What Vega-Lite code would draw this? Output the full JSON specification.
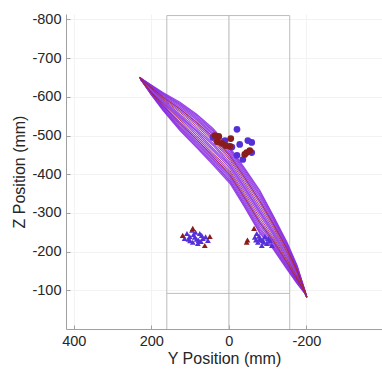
{
"$schema":"https://vega.github.io/schema/vega-lite/v6.json",
"width":316,"height":315,
"autosize":{"type":"none"},
"padding":{"left":66,"top":14,"right":0,"bottom":41},
"background":"white",
"config":{"view":{"stroke":null},
"axis":{"labelFont":"Liberation Sans","titleFont":"Liberation Sans","labelFontSize":14.5,"titleFontSize":16,"titleFontWeight":"normal","labelColor":"#262626","titleColor":"#262626","domainColor":"#a0a0a0","tickColor":"#a0a0a0","tickSize":-4,"gridColor":"#f2f2f2","grid":true,"labelExpr":"toString(datum.value)"}},
"datasets":{
"box":[{"a":160,"b":160,"c":-810,"d":0},{"a":0,"b":0,"c":-810,"d":0},{"a":-157,"b":-157,"c":-810,"d":0},{"a":160,"b":-157,"c":-810,"d":-810},{"a":160,"b":-157,"c":-92,"d":-92}],
"loops":[
{"l":"p0","i":0,"y":230,"z":-650},{"l":"p0","i":1,"y":170,"z":-611},{"l":"p0","i":2,"y":126,"z":-586},{"l":"p0","i":3,"y":83,"z":-555},{"l":"p0","i":4,"y":41,"z":-518},{"l":"p0","i":5,"y":-3,"z":-469},{"l":"p0","i":6,"y":-41,"z":-415},{"l":"p0","i":7,"y":-80,"z":-358},{"l":"p0","i":8,"y":-114,"z":-294},{"l":"p0","i":9,"y":-150,"z":-224},{"l":"p0","i":10,"y":-176,"z":-164},{"l":"p0","i":11,"y":-196,"z":-100},{"l":"p0","i":12,"y":-201,"z":-82},{"l":"p0","i":13,"y":-196,"z":-92},{"l":"p0","i":14,"y":-176,"z":-117},{"l":"p0","i":15,"y":-150,"z":-154},{"l":"p0","i":16,"y":-114,"z":-207},{"l":"p0","i":17,"y":-80,"z":-247},{"l":"p0","i":18,"y":-41,"z":-314},{"l":"p0","i":19,"y":-3,"z":-376},{"l":"p0","i":20,"y":41,"z":-424},{"l":"p0","i":21,"y":83,"z":-469},{"l":"p0","i":22,"y":126,"z":-513},{"l":"p0","i":23,"y":170,"z":-565},{"l":"p0","i":24,"y":200,"z":-605},{"l":"p0","i":25,"y":228,"z":-646},
{"l":"p1","i":0,"y":230,"z":-650},{"l":"p1","i":1,"y":170,"z":-607},{"l":"p1","i":2,"y":126,"z":-580},{"l":"p1","i":3,"y":83,"z":-548},{"l":"p1","i":4,"y":41,"z":-511},{"l":"p1","i":5,"y":-3,"z":-462},{"l":"p1","i":6,"y":-41,"z":-407},{"l":"p1","i":7,"y":-80,"z":-349},{"l":"p1","i":8,"y":-114,"z":-287},{"l":"p1","i":9,"y":-150,"z":-218},{"l":"p1","i":10,"y":-176,"z":-160},{"l":"p1","i":11,"y":-196,"z":-99},{"l":"p1","i":12,"y":-201,"z":-82},{"l":"p1","i":13,"y":-196,"z":-93},{"l":"p1","i":14,"y":-176,"z":-121},{"l":"p1","i":15,"y":-150,"z":-160},{"l":"p1","i":16,"y":-114,"z":-214},{"l":"p1","i":17,"y":-80,"z":-256},{"l":"p1","i":18,"y":-41,"z":-322},{"l":"p1","i":19,"y":-3,"z":-383},{"l":"p1","i":20,"y":41,"z":-431},{"l":"p1","i":21,"y":83,"z":-476},{"l":"p1","i":22,"y":126,"z":-519},{"l":"p1","i":23,"y":170,"z":-569},{"l":"p1","i":24,"y":200,"z":-607},{"l":"p1","i":25,"y":228,"z":-646},
{"l":"p2","i":0,"y":230,"z":-650},{"l":"p2","i":1,"y":170,"z":-603},{"l":"p2","i":2,"y":126,"z":-573},{"l":"p2","i":3,"y":83,"z":-540},{"l":"p2","i":4,"y":41,"z":-502},{"l":"p2","i":5,"y":-3,"z":-452},{"l":"p2","i":6,"y":-41,"z":-397},{"l":"p2","i":7,"y":-80,"z":-338},{"l":"p2","i":8,"y":-114,"z":-278},{"l":"p2","i":9,"y":-150,"z":-211},{"l":"p2","i":10,"y":-176,"z":-156},{"l":"p2","i":11,"y":-196,"z":-98},{"l":"p2","i":12,"y":-201,"z":-82},{"l":"p2","i":13,"y":-196,"z":-94},{"l":"p2","i":14,"y":-176,"z":-125},{"l":"p2","i":15,"y":-150,"z":-167},{"l":"p2","i":16,"y":-114,"z":-223},{"l":"p2","i":17,"y":-80,"z":-267},{"l":"p2","i":18,"y":-41,"z":-332},{"l":"p2","i":19,"y":-3,"z":-393},{"l":"p2","i":20,"y":41,"z":-440},{"l":"p2","i":21,"y":83,"z":-484},{"l":"p2","i":22,"y":126,"z":-526},{"l":"p2","i":23,"y":170,"z":-573},{"l":"p2","i":24,"y":200,"z":-609},{"l":"p2","i":25,"y":228,"z":-646},
{"l":"p3","i":0,"y":230,"z":-650},{"l":"p3","i":1,"y":170,"z":-597},{"l":"p3","i":2,"y":126,"z":-564},{"l":"p3","i":3,"y":83,"z":-529},{"l":"p3","i":4,"y":41,"z":-491},{"l":"p3","i":5,"y":-3,"z":-441},{"l":"p3","i":6,"y":-41,"z":-385},{"l":"p3","i":7,"y":-80,"z":-325},{"l":"p3","i":8,"y":-114,"z":-268},{"l":"p3","i":9,"y":-150,"z":-203},{"l":"p3","i":10,"y":-176,"z":-151},{"l":"p3","i":11,"y":-196,"z":-97},{"l":"p3","i":12,"y":-201,"z":-82},{"l":"p3","i":13,"y":-196,"z":-95},{"l":"p3","i":14,"y":-176,"z":-130},{"l":"p3","i":15,"y":-150,"z":-175},{"l":"p3","i":16,"y":-114,"z":-233},{"l":"p3","i":17,"y":-80,"z":-280},{"l":"p3","i":18,"y":-41,"z":-344},{"l":"p3","i":19,"y":-3,"z":-404},{"l":"p3","i":20,"y":41,"z":-451},{"l":"p3","i":21,"y":83,"z":-495},{"l":"p3","i":22,"y":126,"z":-535},{"l":"p3","i":23,"y":170,"z":-579},{"l":"p3","i":24,"y":200,"z":-611},{"l":"p3","i":25,"y":228,"z":-646},
{"l":"p4","i":0,"y":230,"z":-650},{"l":"p4","i":1,"y":170,"z":-592},{"l":"p4","i":2,"y":126,"z":-555},{"l":"p4","i":3,"y":83,"z":-519},{"l":"p4","i":4,"y":41,"z":-480},{"l":"p4","i":5,"y":-3,"z":-430},{"l":"p4","i":6,"y":-41,"z":-373},{"l":"p4","i":7,"y":-80,"z":-311},{"l":"p4","i":8,"y":-114,"z":-257},{"l":"p4","i":9,"y":-150,"z":-195},{"l":"p4","i":10,"y":-176,"z":-145},{"l":"p4","i":11,"y":-196,"z":-96},{"l":"p4","i":12,"y":-201,"z":-82},{"l":"p4","i":13,"y":-196,"z":-96},{"l":"p4","i":14,"y":-176,"z":-136},{"l":"p4","i":15,"y":-150,"z":-183},{"l":"p4","i":16,"y":-114,"z":-244},{"l":"p4","i":17,"y":-80,"z":-294},{"l":"p4","i":18,"y":-41,"z":-356},{"l":"p4","i":19,"y":-3,"z":-415},{"l":"p4","i":20,"y":41,"z":-462},{"l":"p4","i":21,"y":83,"z":-505},{"l":"p4","i":22,"y":126,"z":-544},{"l":"p4","i":23,"y":170,"z":-584},{"l":"p4","i":24,"y":200,"z":-613},{"l":"p4","i":25,"y":228,"z":-646},
{"l":"p5","i":0,"y":230,"z":-650},{"l":"p5","i":1,"y":170,"z":-605},{"l":"p5","i":2,"y":126,"z":-577},{"l":"p5","i":3,"y":83,"z":-544},{"l":"p5","i":4,"y":41,"z":-506},{"l":"p5","i":5,"y":-3,"z":-457},{"l":"p5","i":6,"y":-41,"z":-402},{"l":"p5","i":7,"y":-80,"z":-344},{"l":"p5","i":8,"y":-114,"z":-283},{"l":"p5","i":9,"y":-150,"z":-215},{"l":"p5","i":10,"y":-176,"z":-158},{"l":"p5","i":11,"y":-196,"z":-99},{"l":"p5","i":12,"y":-201,"z":-82},{"l":"p5","i":13,"y":-196,"z":-94},{"l":"p5","i":14,"y":-176,"z":-123},{"l":"p5","i":15,"y":-150,"z":-163},{"l":"p5","i":16,"y":-114,"z":-218},{"l":"p5","i":17,"y":-80,"z":-261},{"l":"p5","i":18,"y":-41,"z":-327},{"l":"p5","i":19,"y":-3,"z":-388},{"l":"p5","i":20,"y":41,"z":-436},{"l":"p5","i":21,"y":83,"z":-480},{"l":"p5","i":22,"y":126,"z":-522},{"l":"p5","i":23,"y":170,"z":-571},{"l":"p5","i":24,"y":200,"z":-607},{"l":"p5","i":25,"y":228,"z":-646},
{"l":"p6","i":0,"y":230,"z":-650},{"l":"p6","i":1,"y":170,"z":-609},{"l":"p6","i":2,"y":126,"z":-583},{"l":"p6","i":3,"y":83,"z":-552},{"l":"p6","i":4,"y":41,"z":-514},{"l":"p6","i":5,"y":-3,"z":-465},{"l":"p6","i":6,"y":-41,"z":-411},{"l":"p6","i":7,"y":-80,"z":-354},{"l":"p6","i":8,"y":-114,"z":-291},{"l":"p6","i":9,"y":-150,"z":-221},{"l":"p6","i":10,"y":-176,"z":-162},{"l":"p6","i":11,"y":-196,"z":-100},{"l":"p6","i":12,"y":-201,"z":-82},{"l":"p6","i":13,"y":-196,"z":-92},{"l":"p6","i":14,"y":-176,"z":-119},{"l":"p6","i":15,"y":-150,"z":-157},{"l":"p6","i":16,"y":-114,"z":-210},{"l":"p6","i":17,"y":-80,"z":-251},{"l":"p6","i":18,"y":-41,"z":-318},{"l":"p6","i":19,"y":-3,"z":-380},{"l":"p6","i":20,"y":41,"z":-428},{"l":"p6","i":21,"y":83,"z":-472},{"l":"p6","i":22,"y":126,"z":-516},{"l":"p6","i":23,"y":170,"z":-567},{"l":"p6","i":24,"y":200,"z":-606},{"l":"p6","i":25,"y":228,"z":-646},
{"l":"p7","i":0,"y":230,"z":-650},{"l":"p7","i":1,"y":170,"z":-600},{"l":"p7","i":2,"y":126,"z":-569},{"l":"p7","i":3,"y":83,"z":-535},{"l":"p7","i":4,"y":41,"z":-497},{"l":"p7","i":5,"y":-3,"z":-448},{"l":"p7","i":6,"y":-41,"z":-392},{"l":"p7","i":7,"y":-80,"z":-332},{"l":"p7","i":8,"y":-114,"z":-274},{"l":"p7","i":9,"y":-150,"z":-208},{"l":"p7","i":10,"y":-176,"z":-154},{"l":"p7","i":11,"y":-196,"z":-98},{"l":"p7","i":12,"y":-201,"z":-82},{"l":"p7","i":13,"y":-196,"z":-94},{"l":"p7","i":14,"y":-176,"z":-127},{"l":"p7","i":15,"y":-150,"z":-170},{"l":"p7","i":16,"y":-114,"z":-227},{"l":"p7","i":17,"y":-80,"z":-273},{"l":"p7","i":18,"y":-41,"z":-337},{"l":"p7","i":19,"y":-3,"z":-397},{"l":"p7","i":20,"y":41,"z":-445},{"l":"p7","i":21,"y":83,"z":-489},{"l":"p7","i":22,"y":126,"z":-530},{"l":"p7","i":23,"y":170,"z":-576},{"l":"p7","i":24,"y":200,"z":-610},{"l":"p7","i":25,"y":228,"z":-646},
{"l":"p8","i":0,"y":230,"z":-650},{"l":"p8","i":1,"y":170,"z":-589},{"l":"p8","i":2,"y":126,"z":-551},{"l":"p8","i":3,"y":83,"z":-514},{"l":"p8","i":4,"y":41,"z":-475},{"l":"p8","i":5,"y":-3,"z":-424},{"l":"p8","i":6,"y":-41,"z":-367},{"l":"p8","i":7,"y":-80,"z":-305},{"l":"p8","i":8,"y":-114,"z":-252},{"l":"p8","i":9,"y":-150,"z":-190},{"l":"p8","i":10,"y":-176,"z":-142},{"l":"p8","i":11,"y":-196,"z":-95},{"l":"p8","i":12,"y":-201,"z":-82},{"l":"p8","i":13,"y":-196,"z":-97},{"l":"p8","i":14,"y":-176,"z":-139},{"l":"p8","i":15,"y":-150,"z":-188},{"l":"p8","i":16,"y":-114,"z":-249},{"l":"p8","i":17,"y":-80,"z":-300},{"l":"p8","i":18,"y":-41,"z":-362},{"l":"p8","i":19,"y":-3,"z":-421},{"l":"p8","i":20,"y":41,"z":-467},{"l":"p8","i":21,"y":83,"z":-510},{"l":"p8","i":22,"y":126,"z":-548},{"l":"p8","i":23,"y":170,"z":-587},{"l":"p8","i":24,"y":200,"z":-615},{"l":"p8","i":25,"y":228,"z":-646}
],
"redloops":[
{"l":"r0","i":0,"y":230,"z":-650},{"l":"r0","i":1,"y":170,"z":-599},{"l":"r0","i":2,"y":126,"z":-568},{"l":"r0","i":3,"y":83,"z":-533},{"l":"r0","i":4,"y":41,"z":-496},{"l":"r0","i":5,"y":-3,"z":-446},{"l":"r0","i":6,"y":-41,"z":-390},{"l":"r0","i":7,"y":-80,"z":-330},{"l":"r0","i":8,"y":-114,"z":-272},{"l":"r0","i":9,"y":-150,"z":-207},{"l":"r0","i":10,"y":-176,"z":-153},{"l":"r0","i":11,"y":-196,"z":-98},{"l":"r0","i":12,"y":-201,"z":-82},{"l":"r0","i":13,"y":-196,"z":-95},{"l":"r0","i":14,"y":-176,"z":-128},{"l":"r0","i":15,"y":-150,"z":-172},{"l":"r0","i":16,"y":-114,"z":-229},{"l":"r0","i":17,"y":-80,"z":-275},{"l":"r0","i":18,"y":-41,"z":-339},{"l":"r0","i":19,"y":-3,"z":-399},{"l":"r0","i":20,"y":41,"z":-446},{"l":"r0","i":21,"y":83,"z":-490},{"l":"r0","i":22,"y":126,"z":-531},{"l":"r0","i":23,"y":170,"z":-577},{"l":"r0","i":24,"y":200,"z":-610},{"l":"r0","i":25,"y":228,"z":-646},
{"l":"r1","i":0,"y":230,"z":-650},{"l":"r1","i":1,"y":170,"z":-594},{"l":"r1","i":2,"y":126,"z":-560},{"l":"r1","i":3,"y":83,"z":-524},{"l":"r1","i":4,"y":41,"z":-486},{"l":"r1","i":5,"y":-3,"z":-436},{"l":"r1","i":6,"y":-41,"z":-379},{"l":"r1","i":7,"y":-80,"z":-318},{"l":"r1","i":8,"y":-114,"z":-263},{"l":"r1","i":9,"y":-150,"z":-199},{"l":"r1","i":10,"y":-176,"z":-148},{"l":"r1","i":11,"y":-196,"z":-97},{"l":"r1","i":12,"y":-201,"z":-82},{"l":"r1","i":13,"y":-196,"z":-95},{"l":"r1","i":14,"y":-176,"z":-133},{"l":"r1","i":15,"y":-150,"z":-179},{"l":"r1","i":16,"y":-114,"z":-238},{"l":"r1","i":17,"y":-80,"z":-287},{"l":"r1","i":18,"y":-41,"z":-350},{"l":"r1","i":19,"y":-3,"z":-409},{"l":"r1","i":20,"y":41,"z":-456},{"l":"r1","i":21,"y":83,"z":-500},{"l":"r1","i":22,"y":126,"z":-540},{"l":"r1","i":23,"y":170,"z":-582},{"l":"r1","i":24,"y":200,"z":-612},{"l":"r1","i":25,"y":228,"z":-646}
],
"pts":[
{"y":-21,"z":-516,"s":"circle","c":"b"},{"y":-49,"z":-487,"s":"circle","c":"b"},{"y":-59,"z":-482,"s":"circle","c":"b"},{"y":-28,"z":-477,"s":"circle","c":"b"},{"y":-59,"z":-456,"s":"circle","c":"b"},{"y":-21,"z":-449,"s":"circle","c":"b"},{"y":-36,"z":-438,"s":"circle","c":"b"},{"y":10,"z":-487,"s":"circle","c":"b"},{"y":41,"z":-495,"s":"circle","c":"b"},{"y":-8,"z":-470,"s":"circle","c":"b"},
{"y":26,"z":-498,"s":"circle","c":"r"},{"y":-5,"z":-492,"s":"circle","c":"r"},{"y":18,"z":-480,"s":"circle","c":"r"},{"y":-3,"z":-472,"s":"circle","c":"r"},{"y":8,"z":-474,"s":"circle","c":"r"},{"y":-46,"z":-456,"s":"circle","c":"r"},{"y":-54,"z":-461,"s":"circle","c":"r"},{"y":-41,"z":-451,"s":"circle","c":"r"},{"y":36,"z":-500,"s":"circle","c":"r"},{"y":30,"z":-484,"s":"circle","c":"r"},
{"y":108,"z":-247,"s":"triangle-up","c":"b"},{"y":95,"z":-255,"s":"triangle-up","c":"b"},{"y":88,"z":-237,"s":"triangle-up","c":"b"},{"y":75,"z":-247,"s":"triangle-up","c":"b"},{"y":67,"z":-234,"s":"triangle-up","c":"b"},{"y":93,"z":-224,"s":"triangle-up","c":"b"},{"y":80,"z":-221,"s":"triangle-up","c":"b"},{"y":114,"z":-234,"s":"triangle-up","c":"b"},{"y":101,"z":-239,"s":"triangle-up","c":"b"},{"y":83,"z":-232,"s":"triangle-up","c":"b"},{"y":70,"z":-242,"s":"triangle-up","c":"b"},{"y":54,"z":-229,"s":"triangle-up","c":"b"},{"y":91,"z":-244,"s":"triangle-up","c":"b"},{"y":78,"z":-229,"s":"triangle-up","c":"b"},{"y":100,"z":-228,"s":"triangle-up","c":"b"},{"y":60,"z":-238,"s":"triangle-up","c":"b"},{"y":72,"z":-226,"s":"triangle-up","c":"b"},{"y":86,"z":-250,"s":"triangle-up","c":"b"},{"y":104,"z":-232,"s":"triangle-up","c":"b"},
{"y":119,"z":-242,"s":"triangle-up","c":"r"},{"y":49,"z":-239,"s":"triangle-up","c":"r"},{"y":62,"z":-216,"s":"triangle-up","c":"r"},{"y":93,"z":-260,"s":"triangle-up","c":"r"},
{"y":-72,"z":-247,"s":"triangle-up","c":"b"},{"y":-80,"z":-234,"s":"triangle-up","c":"b"},{"y":-75,"z":-224,"s":"triangle-up","c":"b"},{"y":-88,"z":-229,"s":"triangle-up","c":"b"},{"y":-98,"z":-221,"s":"triangle-up","c":"b"},{"y":-106,"z":-229,"s":"triangle-up","c":"b"},{"y":-85,"z":-216,"s":"triangle-up","c":"b"},{"y":-111,"z":-216,"s":"triangle-up","c":"b"},{"y":-67,"z":-237,"s":"triangle-up","c":"b"},{"y":-93,"z":-239,"s":"triangle-up","c":"b"},{"y":-78,"z":-240,"s":"triangle-up","c":"b"},{"y":-90,"z":-224,"s":"triangle-up","c":"b"},{"y":-83,"z":-230,"s":"triangle-up","c":"b"},{"y":-102,"z":-234,"s":"triangle-up","c":"b"},{"y":-70,"z":-230,"s":"triangle-up","c":"b"},
{"y":-46,"z":-224,"s":"triangle-up","c":"r"},{"y":-65,"z":-260,"s":"triangle-up","c":"r"},{"y":-48,"z":-230,"s":"triangle-up","c":"r"}
]},
"layer":[
{"data":{"name":"box"},"mark":{"type":"rule","color":"#bdbdbd","strokeWidth":1},
"encoding":{"x":{"field":"a","type":"quantitative","scale":{"domain":[-395,420],"reverse":true,"nice":false,"zero":false},"axis":{"values":[400,200,0,-200],"title":"Y Position (mm)","labelPadding":9,"titlePadding":3}},"x2":{"field":"b"},
"y":{"field":"c","type":"quantitative","scale":{"domain":[-814,0],"reverse":true,"nice":false,"zero":false},"axis":{"values":[-800,-700,-600,-500,-400,-300,-200,-100],"title":"Z Position (mm)","labelPadding":9,"titlePadding":4}},"y2":{"field":"d"}}},
{"data":{"name":"loops"},"mark":{"type":"line","color":"#8a2be2","strokeWidth":1.2,"opacity":0.85},
"encoding":{"x":{"field":"y","type":"quantitative"},"y":{"field":"z","type":"quantitative"},"detail":{"field":"l"},"order":{"field":"i","type":"quantitative"}}},
{"data":{"name":"redloops"},"mark":{"type":"line","color":"#a8232b","strokeWidth":1,"opacity":0.85},
"encoding":{"x":{"field":"y","type":"quantitative"},"y":{"field":"z","type":"quantitative"},"detail":{"field":"l"},"order":{"field":"i","type":"quantitative"}}},
{"data":{"name":"pts"},"mark":{"type":"point","filled":true,"opacity":1},
"encoding":{"x":{"field":"y","type":"quantitative"},"y":{"field":"z","type":"quantitative"},
"shape":{"field":"s","type":"nominal","scale":{"domain":["circle","triangle-up"],"range":["circle","triangle-up"]},"legend":null},
"size":{"field":"s","type":"nominal","scale":{"domain":["circle","triangle-up"],"range":[45,34]},"legend":null},
"color":{"field":"c","type":"nominal","scale":{"domain":["b","r"],"range":["#5530d8","#8b1c1c"]},"legend":null}}}
]
}
